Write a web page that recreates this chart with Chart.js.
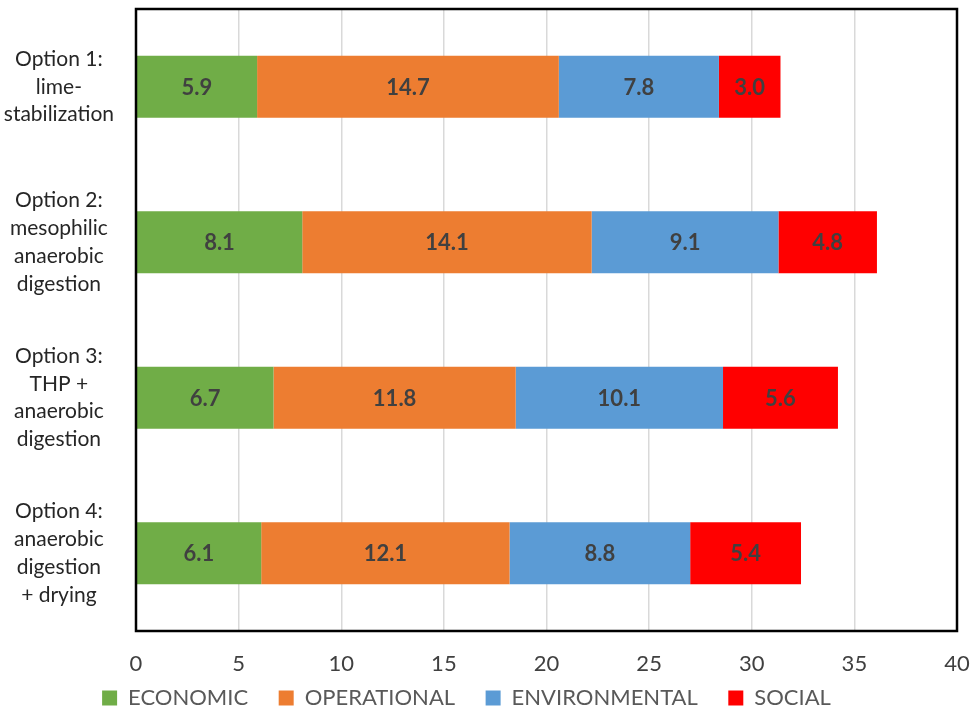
<!DOCTYPE html>
<html>
<head>
<meta charset="utf-8">
<script src="https://cdn.jsdelivr.net/npm/chart.js@4"></script>
<style>
  html, body { margin: 0; padding: 0; background: #fff; }
  #wrap { width: 973px; height: 709px; }
</style>
</head>
<body>
<div id="wrap"><canvas id="grafico"></canvas></div>
<script>
let Opcoes = [
  ["Option 1:", "lime-", "stabilization"],
  ["Option 2:", "mesophilic", "anaerobic", "digestion"],
  ["Option 3:", "THP +", "anaerobic", "digestion"],
  ["Option 4:", "anaerobic", "digestion", "+ drying"]
]
let Economic = [5.9, 8.1, 6.7, 6.1]
let Operational = [14.7, 14.1, 11.8, 12.1]
let Environmental = [7.8, 9.1, 10.1, 8.8]
let Social = [3.0, 4.8, 5.6, 5.4]

let fonte = "Lato, Carlito, sans-serif"

// frame around the plot area, like the excel one
const moldura = {
  id: 'moldura',
  afterDraw(chart) {
    const a = chart.chartArea, ctx = chart.ctx
    ctx.save()
    ctx.strokeStyle = '#000'
    ctx.lineWidth = 2.5
    ctx.strokeRect(a.left, a.top, a.right - a.left, a.bottom - a.top)
    ctx.restore()
  }
}

// value written in the middle of each bar piece
const rotulos = {
  id: 'rotulos',
  afterDatasetsDraw(chart) {
    const ctx = chart.ctx
    ctx.save()
    ctx.font = 'bold 22px ' + fonte
    ctx.fillStyle = '#404040'
    ctx.textAlign = 'center'
    ctx.textBaseline = 'middle'
    chart.data.datasets.forEach((ds, i) => {
      chart.getDatasetMeta(i).data.forEach((bar, j) => {
        const p = bar.getCenterPoint()
        ctx.fillText(ds.data[j].toFixed(1), p.x, p.y + 1)
      })
    })
    ctx.restore()
  }
}

// legend sits a bit left of centre in the original
const legendaEsquerda = {
  id: 'legendaEsquerda',
  afterLayout(chart) {
    chart.legend.left -= 12
    chart.legend.right -= 12
  }
}

function dataset(nome, valores, cor) {
  return { label: nome, data: valores, backgroundColor: cor, borderWidth: 0,
           barPercentage: 0.5, categoryPercentage: 0.8 }
}

var ctx = document.getElementById('grafico').getContext('2d')
var chart = new Chart(ctx, {
  type: 'bar',
  data: {
    labels: Opcoes,
    datasets: [
      dataset('ECONOMIC', Economic, '#70AD47'),
      dataset('OPERATIONAL', Operational, '#ED7D31'),
      dataset('ENVIRONMENTAL', Environmental, '#5B9BD5'),
      dataset('SOCIAL', Social, '#FF0000')
    ]
  },
  options: {
    indexAxis: 'y',
    responsive: true,
    maintainAspectRatio: false,
    animation: false,
    layout: { padding: { top: 9, right: 16, bottom: -10, left: 0 } },
    scales: {
      x: {
        stacked: true,
        min: 0, max: 40,
        afterFit(scale) { scale.height = 48; scale.paddingLeft = 0; scale.paddingRight = 0 },
        ticks: { stepSize: 5, padding: 20, color: '#404040', font: { family: fonte, size: 22 } },
        grid: { color: '#d9d9d9', lineWidth: 1.5, drawTicks: false },
        border: { display: false }
      },
      y: {
        stacked: true,
        afterFit(scale) { scale.width = 136; scale.paddingTop = 0; scale.paddingBottom = 0 },
        ticks: { crossAlign: 'center', padding: 14, color: '#262626',
                 font: { family: fonte, size: 21, lineHeight: 1.33 } },
        grid: { display: false },
        border: { display: false }
      }
    },
    plugins: {
      legend: {
        position: 'bottom',
        labels: {
          boxWidth: 15, boxHeight: 15, padding: 8, color: '#595959',
          font: { family: fonte, size: 22 },
          // wider gap between items without the extra height
          generateLabels(chart) {
            const itens = Chart.defaults.plugins.legend.labels.generateLabels(chart)
            itens.forEach((it, i) => { if (i < itens.length - 1) it.text += '    ' })
            return itens
          }
        }
      },
      tooltip: { enabled: false }
    }
  },
  plugins: [moldura, rotulos, legendaEsquerda]
})
</script>
</body>
</html>
